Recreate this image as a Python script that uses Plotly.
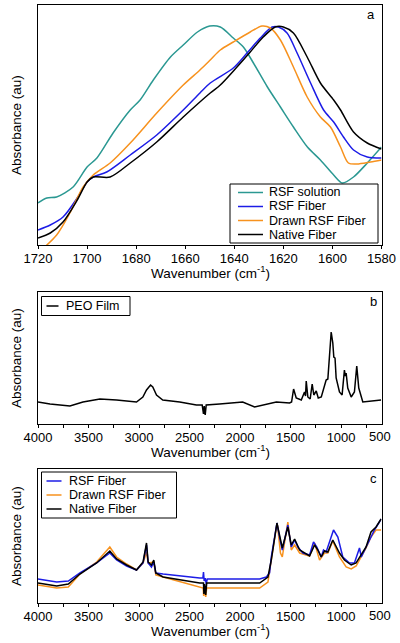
import plotly.graph_objects as go

# ---------------- Panel a (amide I region) ----------------
a_sol_x = [1720, 1716.4, 1712.4, 1705.7, 1700, 1696, 1689.4, 1682.4, 1678.4, 1673, 1666, 1660.8, 1655, 1650,
           1645.7, 1640.4, 1636.3, 1632.2, 1626.5, 1621.2, 1615.9, 1610.2, 1604.9, 1599.5, 1596, 1591.4, 1585.8, 1580]
a_sol_y = [42, 47, 48, 58, 78, 87, 112, 135, 145, 165, 188, 200, 213, 219,
           218, 207, 198, 182, 158, 138, 118, 98, 85, 70, 62, 68, 82, 98]

a_rsf_x = [1720, 1715, 1709.8, 1704, 1700, 1697.5, 1692, 1682.4, 1671.6, 1660.8, 1654, 1649.8, 1640.4, 1634.8,
           1629.4, 1624.6, 1622, 1618.5, 1614.4, 1608.9, 1603.6, 1599.5, 1595.5, 1591.4, 1585.8, 1580]
a_rsf_y = [15, 20, 28, 47, 63, 68, 73, 90, 110, 135, 152, 162, 177, 192,
           207, 218, 218, 212, 192, 162, 135, 123, 108, 95, 88, 87]

a_drawn_x = [1720, 1712.4, 1707, 1701.6, 1697.5, 1690.6, 1682.4, 1671.6, 1660.8, 1654, 1649.8, 1645.7, 1640.4,
             1633.5, 1628.7, 1625.3, 1621.2, 1615.9, 1610.3, 1604.9, 1600.8, 1596.7, 1593.5, 1590, 1584.5, 1580]
a_drawn_y = [-8, 10, 32, 58, 70, 82, 102, 132, 160, 175, 185, 195, 203,
             213, 219, 217, 205, 178, 148, 128, 118, 98, 82, 81, 83, 85]

a_native_x = [1720, 1715, 1709.8, 1704, 1700, 1697.5, 1690.6, 1682.4, 1671.6, 1660.8, 1649.8, 1645.7, 1638.9,
              1633.5, 1628.2, 1623.3, 1620, 1615.9, 1610.3, 1604.9, 1599.5, 1596.7, 1591.4, 1585.8, 1580]
a_native_y = [7, 12, 23, 45, 63, 68, 68, 82, 103, 128, 152, 160, 178,
              193, 208, 218, 218, 212, 188, 162, 145, 135, 113, 102, 96]

# ---------------- Panel b (PEO film) ----------------
b_peo_x = [4000, 3881, 3684, 3555, 3387, 3222, 3025, 2962, 2926, 2886, 2864, 2827, 2765, 2597, 2432, 2375,
           2362, 2355, 2345, 2335, 2202, 1974, 1856, 1641, 1510, 1490, 1470, 1444, 1394, 1362, 1352, 1345,
           1329, 1306, 1286, 1270, 1246, 1226, 1196, 1164, 1148, 1131, 1098, 1082, 1072, 1060, 1049, 1016,
           990, 967, 958, 950, 934, 900, 868, 845, 825, 785, 687, 604]
b_peo_y = [22, 20, 18, 22, 25, 24, 22, 27, 34, 39, 37, 29, 24, 22, 19, 19,
           10, 18, 9, 19, 20, 22, 17, 22, 21, 22, 35, 26, 24, 32, 28, 43,
           27, 25, 40, 29, 33, 26, 27, 39, 44, 45, 92, 81, 67, 66, 46, 32,
           29, 54, 48, 51, 36, 27, 32, 58, 36, 22, 23, 24]

# ---------------- Panel c (full spectra of fibers) ----------------
c_rsf_x = [4000, 3815, 3700, 3585, 3420, 3289, 3222, 3123, 3025, 2960, 2926, 2910, 2877, 2854, 2834, 2762,
           2400, 2368, 2362, 2355, 2345, 2335, 2325, 2300, 1806, 1740, 1708, 1691, 1658, 1635, 1609, 1582,
           1549, 1527, 1493, 1460, 1428, 1378, 1312, 1273, 1240, 1197, 1174, 1148, 1075, 1032, 983, 917,
           868, 818, 800, 720, 670, 621, 604]
c_rsf_y = [24, 21, 22, 30, 40, 50, 43, 37, 33, 40, 58, 40, 36, 41, 30, 29,
           25, 25, 31, 22, 25, 19, 24, 24, 24, 26, 30, 46, 66, 80, 66, 53,
           68, 78, 56, 63, 56, 50, 48, 61, 56, 46, 53, 51, 73, 66, 46, 40,
           40, 55, 46, 63, 73, 81, 84]

c_drawn_x = [4000, 3815, 3700, 3585, 3420, 3289, 3222, 3123, 3025, 2960, 2926, 2910, 2854, 2834, 2762, 2400,
             2365, 2360, 2352, 2340, 2330, 2300, 1806, 1724, 1691, 1640, 1630, 1600, 1582, 1527, 1493, 1460,
             1410, 1312, 1262, 1213, 1164, 1131, 1082, 1016, 950, 900, 851, 802, 753, 704, 654, 604]
c_drawn_y = [18, 15, 16, 29, 41, 56, 46, 39, 33, 40, 51, 40, 41, 28, 26, 16,
             15, 7, 15, 6, 15, 15, 15, 21, 43, 76, 78, 50, 46, 81, 53, 58,
             50, 47, 60, 43, 50, 50, 62, 46, 36, 34, 37, 46, 55, 66, 73, 73]

c_native_x = [4000, 3815, 3700, 3585, 3420, 3289, 3222, 3123, 3025, 2960, 2926, 2910, 2877, 2854, 2834, 2762,
              2400, 2362, 2358, 2350, 2340, 2330, 2300, 1806, 1724, 1691, 1635, 1600, 1582, 1527, 1493, 1460,
              1410, 1312, 1262, 1230, 1197, 1164, 1131, 1082, 1016, 967, 900, 851, 818, 753, 704, 654, 604]
c_native_y = [20, 17, 19, 29, 40, 52, 44, 38, 33, 41, 60, 41, 38, 43, 30, 26,
              20, 20, 9, 19, 8, 20, 20, 20, 26, 43, 80, 63, 55, 76, 58, 64,
              53, 47, 58, 53, 46, 52, 51, 63, 50, 43, 38, 40, 45, 56, 71, 76, 84]

a_ticks = [1720, 1700, 1680, 1660, 1640, 1620, 1600, 1580]
bc_ticks = [4000, 3500, 3000, 2500, 2000, 1500, 1000]
bc_minor = [3750, 3250, 2750, 2250, 1750, 1250, 750]

TEAL = "#2b9892"
BLUE = "#1c1ce6"
ORANGE = "#f7921e"
BLACK = "#000000"
FONT = "Liberation Sans, Arial, sans-serif"

W, H = 400, 643
def px(x):
    return x / W
def py(y):
    return 1 - y / H

XL, XR = 38, 381.5
boxes = {"a": (5, 245), "b": (292, 424), "c": (469, 603)}

fig = go.Figure()
LW = 1.5
sp = dict(shape="spline", smoothing=0.8)
fig.add_trace(go.Scatter(x=a_sol_x, y=a_sol_y, mode="lines", line=dict(color=TEAL, width=LW, **sp), xaxis="x", yaxis="y", name="RSF solution"))
fig.add_trace(go.Scatter(x=a_rsf_x, y=a_rsf_y, mode="lines", line=dict(color=BLUE, width=LW, **sp), xaxis="x", yaxis="y", name="RSF Fiber"))
fig.add_trace(go.Scatter(x=a_drawn_x, y=a_drawn_y, mode="lines", line=dict(color=ORANGE, width=LW, **sp), xaxis="x", yaxis="y", name="Drawn RSF Fiber"))
fig.add_trace(go.Scatter(x=a_native_x, y=a_native_y, mode="lines", line=dict(color=BLACK, width=LW, **sp), xaxis="x", yaxis="y", name="Native Fiber"))

fig.add_trace(go.Scatter(x=b_peo_x, y=b_peo_y, mode="lines", line=dict(color=BLACK, width=LW), xaxis="x2", yaxis="y2", name="PEO Film"))

fig.add_trace(go.Scatter(x=c_drawn_x, y=c_drawn_y, mode="lines", line=dict(color=ORANGE, width=LW), xaxis="x3", yaxis="y3", name="Drawn RSF Fiber"))
fig.add_trace(go.Scatter(x=c_rsf_x, y=c_rsf_y, mode="lines", line=dict(color=BLUE, width=LW), xaxis="x3", yaxis="y3", name="RSF Fiber"))
fig.add_trace(go.Scatter(x=c_native_x, y=c_native_y, mode="lines", line=dict(color=BLACK, width=LW), xaxis="x3", yaxis="y3", name="Native Fiber"))

axis_common = dict(showline=True, mirror=True, linecolor="black", linewidth=1.3, showgrid=False, zeroline=False,
                   automargin=False)
tickfont = dict(family=FONT, size=13, color="black")
xtick_common = dict(ticks="outside", ticklen=3, tickcolor="black", tickfont=tickfont, ticklabelstandoff=-2)

def ydom(k):
    t, b = boxes[k]
    return [py(b), py(t)]

fig.update_layout(
    width=W, height=H, margin=dict(l=0, r=0, t=0, b=0),
    paper_bgcolor="white", plot_bgcolor="white", showlegend=False,
    xaxis=dict(**axis_common, **xtick_common, domain=[px(XL), px(XR)], range=[1720, 1580], anchor="y", tickvals=a_ticks),
    yaxis=dict(**axis_common, domain=ydom("a"), range=[0, 240], anchor="x", showticklabels=False, ticks=""),
    xaxis2=dict(**axis_common, **xtick_common, domain=[px(XL), px(XR)], range=[4000, 600], anchor="y2", tickvals=bc_ticks,
                minor=dict(tickvals=bc_minor, ticks="outside", ticklen=3, tickcolor="black")),
    yaxis2=dict(**axis_common, domain=ydom("b"), range=[0, 132], anchor="x2", showticklabels=False, ticks=""),
    xaxis3=dict(**axis_common, **xtick_common, domain=[px(XL), px(XR)], range=[4000, 600], anchor="y3", tickvals=bc_ticks,
                minor=dict(tickvals=bc_minor, ticks="outside", ticklen=3, tickcolor="black")),
    yaxis3=dict(**axis_common, domain=ydom("c"), range=[0, 134], anchor="x3", showticklabels=False, ticks=""),
)

annotations = []
shapes = []
TITLEFONT = dict(family=FONT, size=13.5, color="black")
for k, (t, b) in boxes.items():
    # x-axis titles
    annotations.append(dict(text="Wavenumber (cm<sup>-1</sup>)", x=px((XL + XR) / 2 + 1), y=py(b + 27), xref="paper", yref="paper",
                            xanchor="center", yanchor="middle", showarrow=False, font=TITLEFONT))
    # y-axis titles
    annotations.append(dict(text="Absorbance (au)", x=px(16), y=py((t + b) / 2), xref="paper", yref="paper",
                            xanchor="center", yanchor="middle", textangle=-90, showarrow=False, font=TITLEFONT))
# right-end "500" tick label for panels b and c
for k in ("b", "c"):
    t, b = boxes[k]
    annotations.append(dict(text="500", x=px(380), y=py(b + 12), xref="paper", yref="paper",
                            xanchor="center", yanchor="middle", showarrow=False, font=tickfont))
# panel letters
for k, (xx, yy) in {"a": (371, 15), "b": (373, 301), "c": (373, 478)}.items():
    annotations.append(dict(text=k, x=px(xx), y=py(yy), xref="paper", yref="paper", xanchor="center",
                            yanchor="middle", showarrow=False, font=dict(family=FONT, size=13, color="black")))

# legends drawn as boxes with sample lines and text
LEGFONT = dict(family=FONT, size=12.5, color="black")
def add_legend(box, line_x, text_x, rows):
    x0, y0, x1, y1 = box
    shapes.append(dict(type="rect", xref="paper", yref="paper", x0=px(x0), x1=px(x1), y0=py(y1), y1=py(y0),
                       line=dict(color="black", width=1), fillcolor="white", layer="above"))
    for (label, color, yy) in rows:
        shapes.append(dict(type="line", xref="paper", yref="paper", x0=px(line_x[0]), x1=px(line_x[1]),
                           y0=py(yy), y1=py(yy), line=dict(color=color, width=1.5), layer="above"))
        annotations.append(dict(text=label, x=px(text_x), y=py(yy), xref="paper", yref="paper",
                                xanchor="left", yanchor="middle", showarrow=False, font=LEGFONT))

add_legend((230, 184, 378, 243), (238, 263), 267,
           [("RSF solution", TEAL, 192.5), ("RSF Fiber", BLUE, 206.5), ("Drawn RSF Fiber", ORANGE, 220.5), ("Native Fiber", BLACK, 234.5)])
add_legend((41.5, 296.5, 130, 315.5), (46.5, 58.5), 64, [("PEO Film", BLACK, 306)])
add_legend((41.5, 472, 176.5, 518), (46.5, 61.5), 67,
           [("RSF Fiber", BLUE, 481), ("Drawn RSF Fiber", ORANGE, 495), ("Native Fiber", BLACK, 509)])

fig.update_layout(annotations=annotations, shapes=shapes)
fig.write_html("out.html", config={"displayModeBar": False},
               post_script="document.body.style.margin='0';document.body.style.padding='0';")
